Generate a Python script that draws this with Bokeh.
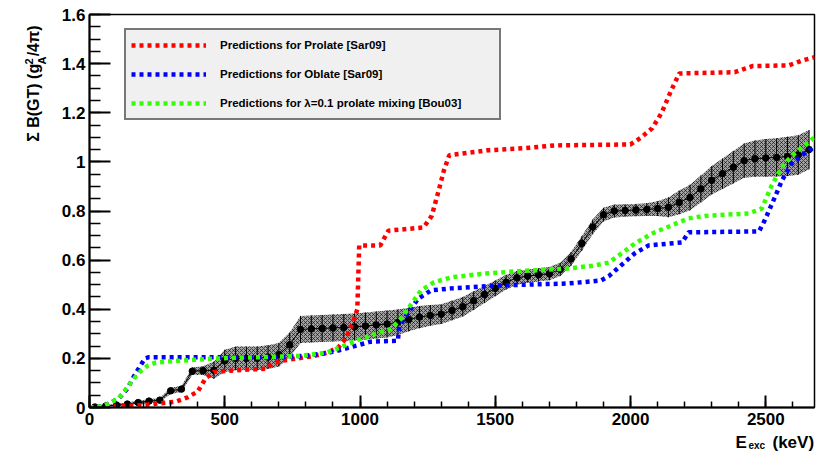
import math
from bokeh.plotting import figure
from bokeh.layouts import row, column
from bokeh.models import (Range1d, FixedTicker, CustomJSTickFormatter,
                          Legend, LegendItem)
from bokeh.core.properties import value
from bokeh.embed import file_html
from bokeh.resources import INLINE

# ---------------- data ----------------
# measured Sum B(GT) with uncertainty, 40 keV bins
exp_x = [20, 60, 100, 140, 180, 220, 260, 300, 340, 380, 420, 460, 500, 540, 580, 620,
         660, 700, 740, 780, 820, 860, 900, 940, 980, 1020, 1060, 1100, 1140, 1180, 1220,
         1260, 1300, 1340, 1380, 1420, 1460, 1500, 1540, 1580, 1620, 1660, 1700, 1740,
         1780, 1820, 1860, 1900, 1940, 1980, 2020, 2060, 2100, 2140, 2180, 2220, 2260,
         2300, 2340, 2380, 2420, 2460, 2500, 2540, 2580, 2620, 2660]
exp_y = [0.002, 0.006, 0.010, 0.014, 0.020, 0.026, 0.030, 0.068, 0.075, 0.148, 0.150,
         0.152, 0.190, 0.200, 0.200, 0.200, 0.205, 0.215, 0.255, 0.318, 0.320, 0.322,
         0.324, 0.326, 0.328, 0.332, 0.336, 0.340, 0.347, 0.358, 0.368, 0.375, 0.380,
         0.395, 0.410, 0.435, 0.460, 0.485, 0.510, 0.528, 0.535, 0.540, 0.545, 0.562,
         0.605, 0.668, 0.735, 0.785, 0.800, 0.802, 0.804, 0.806, 0.810, 0.815, 0.835,
         0.855, 0.890, 0.925, 0.952, 0.978, 1.005, 1.013, 1.016, 1.018, 1.022, 1.028,
         1.050]
exp_err = [0.003, 0.004, 0.005, 0.006, 0.007, 0.008, 0.009, 0.012, 0.013, 0.015, 0.018,
           0.035, 0.045, 0.048, 0.048, 0.048, 0.048, 0.048, 0.050, 0.055, 0.055, 0.055,
           0.055, 0.055, 0.055, 0.055, 0.055, 0.055, 0.052, 0.048, 0.045, 0.042, 0.040,
           0.040, 0.040, 0.038, 0.035, 0.032, 0.030, 0.028, 0.027, 0.027, 0.027, 0.027,
           0.028, 0.030, 0.030, 0.028, 0.026, 0.025, 0.025, 0.026, 0.030, 0.040, 0.048,
           0.052, 0.055, 0.058, 0.062, 0.066, 0.070, 0.074, 0.077, 0.078, 0.080, 0.080,
           0.080]

# Predictions for Prolate [Sar09]
prolate_x = [0, 100, 200, 320, 360, 400, 430, 460, 520, 650, 680, 710, 830, 880, 920,
             950, 975, 990, 997, 1075, 1105, 1235, 1265, 1290, 1310, 1330, 1470, 1600,
             1720, 2000, 2040, 2080, 2115, 2150, 2180, 2385, 2450, 2585, 2635, 2680]
prolate_y = [0.0, 0.005, 0.010, 0.024, 0.040, 0.065, 0.120, 0.145, 0.150, 0.158, 0.180,
             0.190, 0.210, 0.224, 0.245, 0.285, 0.350, 0.400, 0.660, 0.660, 0.720, 0.733,
             0.780, 0.880, 0.965, 1.027, 1.047, 1.055, 1.067, 1.071, 1.100, 1.137, 1.200,
             1.290, 1.360, 1.365, 1.390, 1.393, 1.413, 1.426]

# Predictions for Oblate [Sar09]
oblate_x = [0, 50, 80, 110, 140, 170, 205, 220, 700, 790, 880, 930, 980, 1040, 1140,
            1145, 1178, 1215, 1263, 1337, 1520, 1770, 1890, 1920, 1956, 2015, 2067, 2190,
            2215, 2475, 2496, 2533, 2560, 2596, 2644, 2680]
oblate_y = [0.0, 0.005, 0.020, 0.040, 0.077, 0.138, 0.200, 0.205, 0.205, 0.210, 0.222,
            0.235, 0.250, 0.268, 0.272, 0.330, 0.387, 0.443, 0.477, 0.485, 0.497, 0.505,
            0.517, 0.535, 0.570, 0.627, 0.660, 0.672, 0.713, 0.717, 0.762, 0.855, 0.925,
            0.994, 1.035, 1.060]

# Predictions for lambda=0.1 prolate mixing [Bou03]
mixing_x = [0, 50, 80, 110, 145, 181, 215, 245, 293, 478, 780, 880, 1004, 1115, 1152,
            1189, 1226, 1274, 1337, 1459, 1585, 1770, 1867, 1919, 1967, 2015, 2067, 2089,
            2215, 2274, 2437, 2485, 2522, 2548, 2570, 2607, 2659, 2680]
mixing_y = [0.0, 0.005, 0.020, 0.040, 0.090, 0.140, 0.170, 0.183, 0.187, 0.200, 0.210,
            0.224, 0.280, 0.320, 0.362, 0.420, 0.477, 0.510, 0.530, 0.545, 0.555, 0.566,
            0.578, 0.590, 0.627, 0.667, 0.700, 0.713, 0.770, 0.780, 0.790, 0.810, 0.904,
            0.957, 0.994, 1.035, 1.080, 1.100]

legend_labels = ["Predictions for Prolate [Sar09]",
                 "Predictions for Oblate [Sar09]",
                 "Predictions for \u03bb=0.1 prolate mixing [Bou03]"]

x_ticks = [0, 500, 1000, 1500, 2000, 2500]
x_minor = [v for v in range(0, 2700, 100)]
y_ticks = [0, 0.2, 0.4, 0.6, 0.8, 1.0, 1.2, 1.4, 1.6]
y_minor = [i * 0.05 for i in range(33)]

# axis title pieces (main text, superscript, subscript, tail)
ytitle_parts = ["\u03a3 B(GT) (g", "2", "A", "/4\u03c0)"]
xtitle_parts = ["E", "exc", "(keV)"]

FONT = "Liberation Sans"

# ---------------- main figure ----------------
p = figure(width=768, height=432, output_backend="svg", toolbar_location=None,
           title=None, x_range=Range1d(0, 2680), y_range=Range1d(0, 1.6),
           min_border_left=34, min_border_right=9, min_border_top=14,
           min_border_bottom=25)
p.grid.visible = False
p.background_fill_color = "white"
p.outline_line_color = "black"
p.outline_line_width = 1.5

for ax in (p.xaxis, p.yaxis):
    ax.axis_line_width = 2
    ax.axis_line_color = "black"
    ax.major_tick_line_width = 2
    ax.minor_tick_line_width = 1.5
    ax.major_tick_out = 0
    ax.minor_tick_out = 0
    ax.major_label_text_font = FONT
    ax.major_label_text_font_style = "bold"
    ax.major_label_text_font_size = "17px"
    ax.major_label_text_color = "black"

p.xaxis.ticker = FixedTicker(ticks=x_ticks, minor_ticks=x_minor)
p.xaxis.major_tick_in = 12
p.xaxis.minor_tick_in = 6
p.xaxis.major_label_standoff = 5
p.yaxis.ticker = FixedTicker(ticks=y_ticks, minor_ticks=y_minor)
p.yaxis.major_tick_in = 21
p.yaxis.minor_tick_in = 11
p.yaxis.major_label_standoff = 4
p.yaxis.formatter = CustomJSTickFormatter(code="return (Math.round(tick*100)/100).toString();")

# error band
lo = [y - e for y, e in zip(exp_y, exp_err)]
hi = [y + e for y, e in zip(exp_y, exp_err)]
p.varea(x=exp_x, y1=lo, y2=hi, fill_color="#a2a2a2", fill_alpha=1,
        hatch_pattern="diagonal_cross", hatch_color="black", hatch_scale=4,
        hatch_weight=0.6)
p.segment(x0=exp_x, y0=lo, x1=exp_x, y1=hi, line_color="black", line_width=1)
p.line(exp_x, exp_y, line_color="black", line_width=1)
p.scatter(exp_x, exp_y, size=6.5, color="black")

# predictions
dash = dict(line_width=4.5, line_dash="4 4", line_cap="butt")
r_red = p.line(prolate_x, prolate_y, line_color="#ff0000", **dash)
r_blue = p.line(oblate_x, oblate_y, line_color="#0000ff", **dash)
r_green = p.line(mixing_x, mixing_y, line_color="#33ff00", **dash)

legend = Legend(items=[LegendItem(label=legend_labels[0], renderers=[r_red]),
                       LegendItem(label=legend_labels[1], renderers=[r_blue]),
                       LegendItem(label=legend_labels[2], renderers=[r_green])],
                location=(35, 287), glyph_width=75, glyph_height=20,
                label_standoff=14, padding=5, spacing=9, label_width=274,
                label_height=20, border_line_color="black", border_line_width=2,
                background_fill_color="#f0f0f0", background_fill_alpha=1,
                label_text_font=FONT, label_text_font_style="bold",
                label_text_font_size="11.5px", label_text_color="black")
p.add_layout(legend)


# ---------------- title strips (plain canvases holding the axis titles) ----------------
def strip(w, h):
    f = figure(width=w, height=h, output_backend="svg", toolbar_location=None,
               title=None, x_axis_type=None, y_axis_type=None,
               x_range=Range1d(0, w), y_range=Range1d(0, h),
               min_border=0, min_border_left=0, min_border_right=0,
               min_border_top=0, min_border_bottom=0)
    f.outline_line_color = None
    f.background_fill_color = "white"
    f.border_fill_color = "white"
    return f


def txt(f, x, y, s, size, angle=0.0):
    f.text(x=[x], y=[y], text=[s], angle=angle, text_align="left",
           text_baseline="alphabetic", text_font=value(FONT),
           text_font_style="bold", text_font_size=size, text_color="black")


half = math.pi / 2
yt = strip(55, 432)          # left strip: y = 432 - window_y
txt(yt, 33, 292, ytitle_parts[0], "16px", half)
txt(yt, 28, 377, ytitle_parts[1], "11px", half)
txt(yt, 41.5, 377, ytitle_parts[2], "11px", half)
txt(yt, 33, 386, ytitle_parts[3], "16px", half)

xt = strip(823, 19)          # bottom strip
txt(xt, 735, 9.5, xtitle_parts[0], "17px")
txt(xt, 748, 6.5, xtitle_parts[1], "10px")
txt(xt, 772, 9.5, xtitle_parts[2], "17px")

layout = column(row(yt, p, spacing=0), xt, spacing=0)
open("out.html", "w").write(file_html(layout, INLINE))
